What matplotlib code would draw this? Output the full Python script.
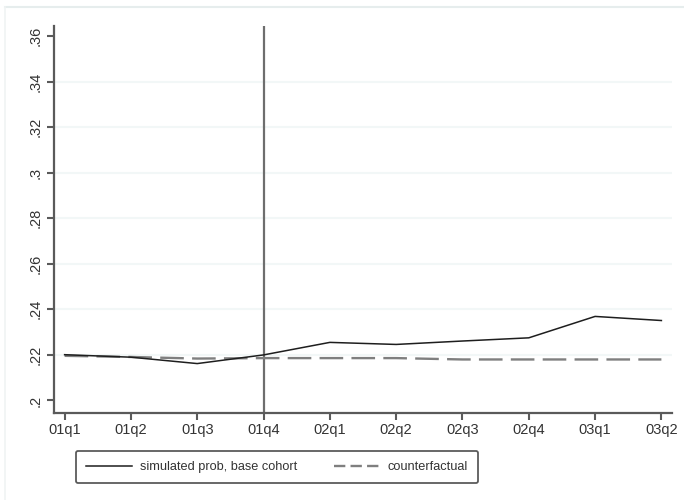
import matplotlib.pyplot as plt
from matplotlib.lines import Line2D

plt.rcParams['font.family'] = ['Liberation Sans', 'DejaVu Sans']

# quarters on the x axis
quarters = ['01q1', '01q2', '01q3', '01q4', '02q1', '02q2', '02q3', '02q4', '03q1', '03q2']

# simulated probability, base cohort
simulated = [0.2201, 0.2190, 0.2162, 0.2200, 0.2255, 0.2246, 0.2261, 0.2275, 0.2369, 0.2351]

# counterfactual
counterfactual = [0.2196, 0.2191, 0.2184, 0.2186, 0.2186, 0.2186, 0.2180, 0.2180, 0.2180, 0.2180]

yticks = [0.20, 0.22, 0.24, 0.26, 0.28, 0.30, 0.32, 0.34, 0.36]
ytick_labels = ['.2', '.22', '.24', '.26', '.28', '.3', '.32', '.34', '.36']

fig = plt.figure(figsize=(6.84, 5), dpi=100)
ax = fig.add_axes([54 / 684, 1 - 413 / 500, (672 - 54) / 684, (413 - 26) / 500])

x = list(range(len(quarters)))

# very light grid on the inner ticks only
for v in yticks[1:-1]:
    ax.axhline(v, color='#f2f7f7', linewidth=1.5, zorder=0)

# vertical reference line at 01q4
ax.axvline(3, color='#6e6e6e', linewidth=1.6, zorder=1)

ax.plot(x, simulated, color='#1e1e1e', linewidth=1.1, zorder=3)
ax.plot(x, counterfactual, color='#7f7f7f', linewidth=1.7, dashes=(10, 3.5), zorder=2)

ax.set_xlim(-0.16, 9.16)
ax.set_ylim(0.1945, 0.3644)
ax.set_xticks(x)
ax.set_xticklabels(quarters)
ax.set_yticks(yticks)
ax.set_yticklabels(ytick_labels, rotation=90, va='center')

for s in ['top', 'right']:
    ax.spines[s].set_visible(False)
for s in ['left', 'bottom']:
    ax.spines[s].set_color('#5a5a5a')
    ax.spines[s].set_linewidth(1.6)

ax.tick_params(axis='both', direction='out', length=5, width=1.5, color='#5a5a5a',
               labelsize=10.5, labelcolor='#333333')
ax.tick_params(axis='x', pad=2)
ax.tick_params(axis='y', pad=3)

# outer frame of the graph region (cropped at right and bottom)
fig.add_artist(Line2D([5 / 684, 1], [1 - 7 / 500, 1 - 7 / 500], color='#e6eded', linewidth=1.5))
fig.add_artist(Line2D([5 / 684, 5 / 684], [0, 1 - 7 / 500], color='#f0f4f4', linewidth=1.2))

handles = [Line2D([], [], color='#1e1e1e', linewidth=1.1),
           Line2D([], [], color='#7f7f7f', linewidth=1.7, dashes=(4.8, 2.2))]
leg = fig.legend(handles, ['simulated prob, base cohort', 'counterfactual'],
                 loc='center', bbox_to_anchor=(277 / 684, 1 - 467 / 500), ncol=2,
                 fontsize=9.2, frameon=True, fancybox=True, handlelength=3.6,
                 columnspacing=2.9, handletextpad=0.6, borderpad=0.75)
for t in leg.get_texts():
    t.set_color('#333333')
frame = leg.get_frame()
frame.set_edgecolor('#333333')
frame.set_linewidth(1.3)
frame.set_boxstyle('round', pad=0.0, rounding_size=0.15)

fig.savefig('out.png', dpi=100)
